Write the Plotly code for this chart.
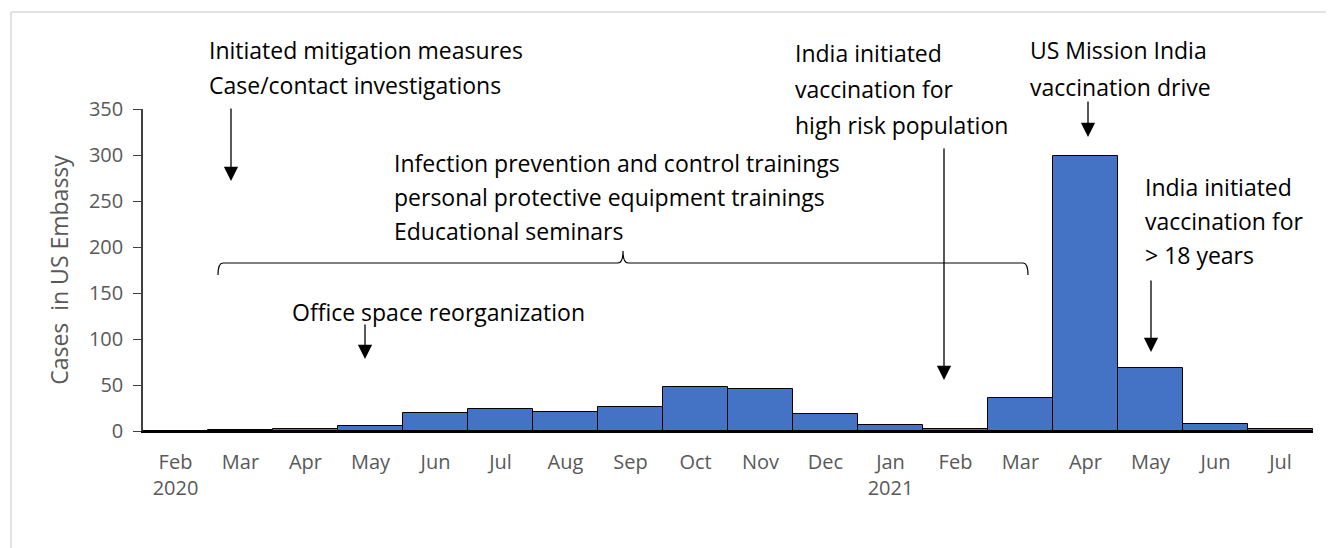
import plotly.graph_objects as go

months = ["Feb", "Mar", "Apr", "May", "Jun", "Jul", "Aug", "Sep", "Oct", "Nov", "Dec",
          "Jan", "Feb ", "Mar ", "Apr ", "May ", "Jun ", "Jul "]
tick_text = ["Feb<br>2020", "Mar", "Apr", "May", "Jun", "Jul", "Aug", "Sep", "Oct", "Nov", "Dec",
             "Jan<br>2021", "Feb", "Mar", "Apr", "May", "Jun", "Jul"]
cases = [0.5, 1, 2, 5, 20, 24, 21, 26, 48, 46, 19, 6, 2, 36, 299, 69, 8, 2]

OFF = 8  # default page body margin
W, H = 1334 - OFF, 548 - OFF
# plot area in page pixels
L, R, T, B = 143, 1313, 109, 431

def px(x):
    return (x - L) / (R - L)

def py(y):
    return (B - y) / (B - T)

FONT = "Open Sans"
fig = go.Figure()
fig.add_trace(go.Bar(x=months, y=cases, marker=dict(color="#4472C4", line=dict(color="black", width=1)),
                     width=1.0))

annos = []
def text(x, y, s):
    annos.append(dict(x=px(x), y=py(y), xref="paper", yref="paper", text=s, showarrow=False,
                      xanchor="left", yanchor="middle", xshift=-2,
                      font=dict(family=FONT, size=23, color="black")))

def arrow(x, y0, y1):
    annos.append(dict(x=px(x), y=py(y1), xref="paper", yref="paper", text="", showarrow=True,
                      ax=0, ay=y0 - y1, arrowhead=2, arrowsize=2.2, arrowwidth=1.3,
                      arrowcolor="black", standoff=0, startstandoff=0))

text(209, 50, "Initiated mitigation measures")
text(209, 85, "Case/contact investigations")
arrow(231, 107, 181)
text(394, 163, "Infection prevention and control trainings")
text(394, 197, "personal protective equipment trainings")
text(394, 231, "Educational seminars")
text(292, 312, "Office space reorganization")
arrow(365, 323, 359)
text(795, 53, "India initiated")
text(795, 89, "vaccination for")
text(795, 125, "high risk population")
arrow(944, 147, 380)
text(1030, 50, "US Mission India")
text(1030, 87, "vaccination drive")
arrow(1088, 100, 137)
text(1145, 187, "India initiated")
text(1145, 221, "vaccination for")
text(1145, 255, "> 18 years")
arrow(1151, 279, 352)

def P(x, y):
    return f"{px(x):.5f},{py(y):.5f}"

brace = (f"M {P(218,275)} Q {P(218,263)} {P(223,263)} L {P(618,263)} Q {P(623,263)} {P(623,251)} "
         f"Q {P(623,263)} {P(628,263)} L {P(1023,263)} Q {P(1028,263)} {P(1028,275)}")

shapes = [
    dict(type="path", path=brace, xref="paper", yref="paper", line=dict(color="black", width=1.2)),
    dict(type="line", xref="paper", yref="paper", x0=px(11), x1=px(1334), y0=py(12), y1=py(12),
         line=dict(color="#D9D9D9", width=1.5)),
    dict(type="line", xref="paper", yref="paper", x0=px(11), x1=px(11), y0=py(12), y1=py(548),
         line=dict(color="#D9D9D9", width=1.5)),
]

fig.update_layout(
    width=W, height=H,
    margin=dict(l=L - OFF, r=W - (R - OFF), t=T - OFF, b=H - (B - OFF)),
    paper_bgcolor="white", plot_bgcolor="white", bargap=0, showlegend=False,
    font=dict(family=FONT, size=20, color="#595959"),
    annotations=annos, shapes=shapes,
    xaxis=dict(type="category", tickmode="array", tickvals=months, ticktext=tick_text,
               showline=True, linecolor="black", linewidth=2, ticks="", showgrid=False,
               ticklabelstandoff=12, tickfont=dict(size=20, color="#595959"),
               range=[-0.5, 17.5]),
    yaxis=dict(range=[0, 350], dtick=50, showline=True, linecolor="#404040", linewidth=1.5,
               ticks="outside", ticklen=8, tickcolor="#404040", showgrid=False, zeroline=False,
               tickfont=dict(size=20, color="#595959"), ticklabelstandoff=6,
               title=dict(text="Cases  in US Embassy", standoff=14,
                          font=dict(size=23, color="#595959"))),
)

fig.write_html("out.html")
